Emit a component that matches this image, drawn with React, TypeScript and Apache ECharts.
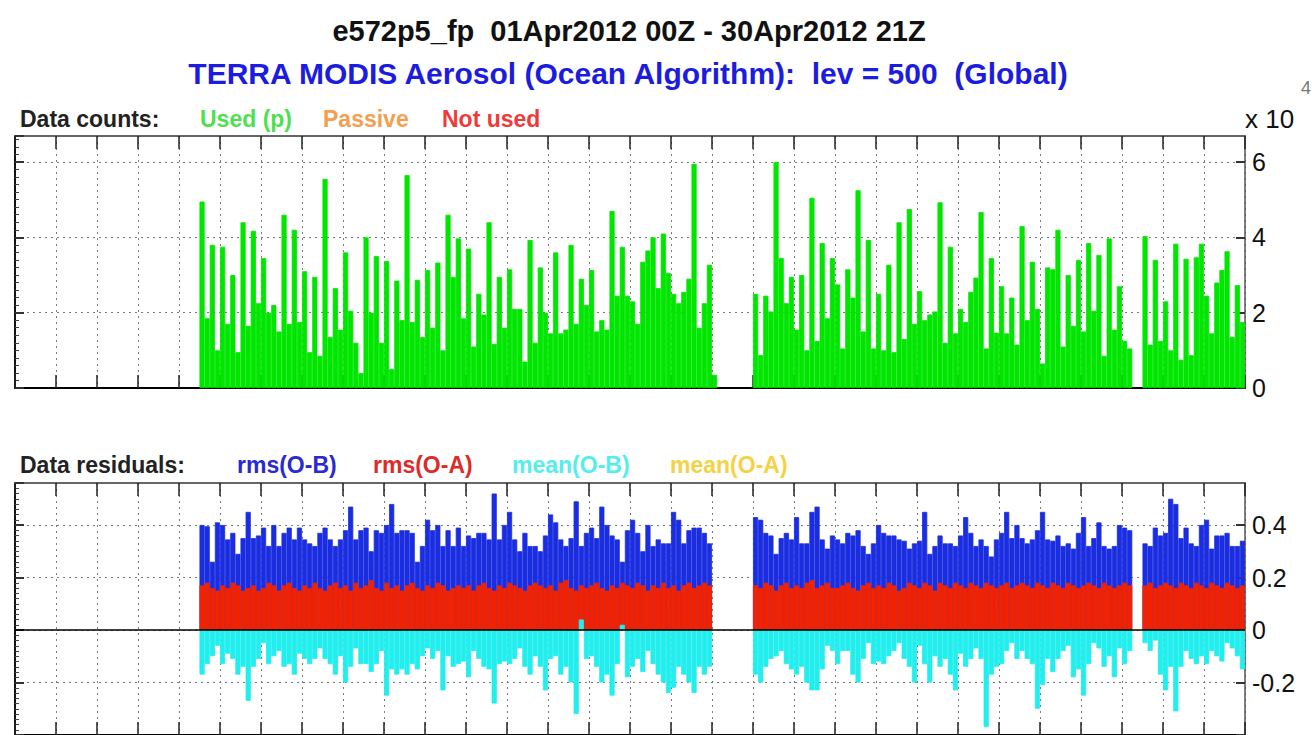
import React, { useEffect, useRef } from "react";
import * as echarts from "echarts";

// ---------- categories (3-hourly synoptic slots, 01Apr2012 00Z .. 30Apr2012 21Z) ----------
const DAY_LABELS = Array.from({ length: 30 }, (_, i) => String(i + 1).padStart(2, "0") + "Apr2012");
const HOURS = ["00Z", "03Z", "06Z", "09Z", "12Z", "15Z", "18Z", "21Z"];
const categories = DAY_LABELS.flatMap((d) => HOURS.map((h) => `${d} ${h}`));

// first slot index of each run of data
const COUNT_SEG_START = [36, 144, 220];
const RESID_SEG_START = [36, 144, 220];

// ---------- Data counts, Used (p), in units of 10^4 ----------
const usedSeg1 = [
  4.95, 1.85, 3.8, 1.0, 3.75, 1.7, 3.0, 0.95, 4.4, 1.65, 4.17, 2.25, 3.45, 2.0, 2.2, 1.5,
  4.6, 1.7, 4.2, 1.75, 3.1, 0.95, 2.95, 0.85, 5.55, 1.35, 2.65, 1.55, 3.6, 2.05, 1.2, 0.4,
  4.0, 2.0, 3.5, 1.2, 3.37, 0.5, 2.85, 1.8, 5.65, 1.75, 2.87, 1.35, 3.13, 1.6, 3.33, 1.0,
  4.6, 2.95, 3.97, 1.85, 3.7, 1.1, 2.5, 1.95, 4.4, 1.17, 2.95, 1.6, 3.15, 2.1, 2.1, 0.7,
  3.93, 1.2, 3.2, 2.0, 1.45, 3.6, 1.45, 1.55, 3.8, 1.7, 2.9, 2.2, 3.13, 1.5, 1.8, 1.55,
  4.7, 2.45, 3.75, 2.45, 2.3, 1.7, 3.35, 3.65, 4.0, 2.65, 4.1, 3.05, 2.5, 2.25, 2.55, 2.9,
  5.95, 1.6, 2.25, 3.27, 0.35,
];
const usedSeg2 = [
  2.5, 0.87, 2.45, 2.03, 6.0, 3.45, 2.25, 2.95, 1.55, 3.0, 1.0, 5.05, 1.25, 3.85, 1.85, 3.45,
  2.75, 1.05, 3.15, 2.4, 5.25, 1.5, 3.93, 1.05, 2.5, 1.0, 3.27, 0.95, 4.4, 1.3, 4.75, 1.7,
  2.57, 1.8, 1.95, 2.03, 4.93, 1.2, 3.75, 1.45, 2.1, 1.75, 2.55, 2.93, 4.67, 1.05, 3.45, 1.47,
  2.7, 1.45, 2.4, 1.15, 4.3, 1.8, 3.35, 2.1, 0.65, 3.2, 3.15, 4.2, 1.1, 3.0, 1.65, 3.4,
  1.5, 3.85, 2.05, 3.53, 0.85, 3.97, 1.55, 2.7, 1.25, 1.05,
];
const usedSeg3 = [
  4.03, 1.15, 3.4, 1.25, 2.3, 1.0, 3.83, 0.75, 3.43, 0.87, 3.47, 3.83, 2.45, 1.45, 2.8, 3.13,
  3.63, 1.35, 2.73, 1.75,
];

// ---------- Data residuals ----------
const rmsOBSeg1 = [
  0.4, 0.395, 0.26, 0.41, 0.4, 0.345, 0.37, 0.29, 0.35, 0.45, 0.35, 0.36, 0.39, 0.32, 0.4, 0.32,
  0.37, 0.39, 0.345, 0.39, 0.345, 0.33, 0.32, 0.37, 0.39, 0.345, 0.32, 0.345, 0.38, 0.47, 0.345, 0.38,
  0.39, 0.3, 0.38, 0.37, 0.4, 0.48, 0.37, 0.38, 0.38, 0.37, 0.26, 0.32, 0.42, 0.38, 0.4, 0.32,
  0.38, 0.32, 0.39, 0.32, 0.36, 0.35, 0.37, 0.37, 0.345, 0.52, 0.345, 0.4, 0.45, 0.345, 0.3, 0.37,
  0.32, 0.32, 0.3, 0.36, 0.44, 0.41, 0.345, 0.32, 0.35, 0.49, 0.32, 0.37, 0.39, 0.35, 0.47, 0.4,
  0.36, 0.345, 0.26, 0.38, 0.42, 0.37, 0.3, 0.4, 0.32, 0.345, 0.33, 0.33, 0.45, 0.42, 0.33, 0.38,
  0.39, 0.39, 0.37, 0.33,
];
const rmsOBSeg2 = [
  0.43, 0.42, 0.37, 0.36, 0.29, 0.35, 0.37, 0.345, 0.43, 0.33, 0.33, 0.45, 0.47, 0.345, 0.31, 0.36,
  0.345, 0.33, 0.37, 0.36, 0.38, 0.32, 0.29, 0.33, 0.4, 0.37, 0.36, 0.36, 0.345, 0.34, 0.31, 0.33,
  0.34, 0.45, 0.29, 0.32, 0.36, 0.33, 0.33, 0.32, 0.36, 0.43, 0.37, 0.32, 0.345, 0.32, 0.28, 0.345,
  0.37, 0.45, 0.35, 0.4, 0.35, 0.33, 0.345, 0.38, 0.45, 0.345, 0.34, 0.36, 0.32, 0.33, 0.31, 0.37,
  0.43, 0.32, 0.35, 0.41, 0.32, 0.31, 0.32, 0.4, 0.39, 0.38,
];
const rmsOBSeg3 = [
  0.33, 0.32, 0.39, 0.36, 0.37, 0.5, 0.48, 0.35, 0.39, 0.33, 0.32, 0.4, 0.42, 0.31, 0.36, 0.36,
  0.37, 0.32, 0.32, 0.34,
];

const rmsOASeg1 = [
  0.17, 0.18, 0.16, 0.15,
  0.17, 0.16, 0.18, 0.17, 0.15, 0.16, 0.17, 0.15,
  0.16, 0.18, 0.17, 0.15, 0.17, 0.18, 0.16, 0.15,
  0.17, 0.16, 0.18, 0.16, 0.15, 0.17, 0.18, 0.16,
  0.17, 0.15, 0.18, 0.16, 0.17, 0.19, 0.16, 0.15,
  0.18, 0.16, 0.17, 0.15, 0.17, 0.18, 0.16, 0.15,
  0.17, 0.16, 0.18, 0.17, 0.15, 0.16, 0.17, 0.16,
  0.17, 0.15, 0.17, 0.18, 0.16, 0.15, 0.17, 0.16,
  0.18, 0.17, 0.16, 0.15, 0.17, 0.18, 0.17, 0.16,
  0.17, 0.15, 0.18, 0.19, 0.16, 0.15, 0.17, 0.16,
  0.17, 0.18, 0.16, 0.15, 0.17, 0.16, 0.18, 0.17,
  0.16, 0.18, 0.17, 0.15, 0.17, 0.16, 0.18, 0.16,
  0.17, 0.15, 0.17, 0.18, 0.16, 0.17, 0.18, 0.17,
];
const rmsOASeg2 = [
  0.17, 0.16, 0.18, 0.17, 0.15, 0.17, 0.18, 0.16,
  0.17, 0.16, 0.18, 0.19, 0.16, 0.17, 0.18, 0.16,
  0.16, 0.17, 0.18, 0.16, 0.15, 0.17, 0.18, 0.16,
  0.17, 0.16, 0.18, 0.17, 0.15, 0.16, 0.18, 0.17,
  0.16, 0.18, 0.17, 0.15, 0.18, 0.17, 0.16, 0.18,
  0.17, 0.16, 0.18, 0.17, 0.16, 0.18, 0.17, 0.16,
  0.17, 0.18, 0.16, 0.17, 0.18, 0.17, 0.16, 0.18,
  0.17, 0.16, 0.18, 0.17, 0.16, 0.18, 0.17, 0.16,
  0.17, 0.18, 0.17, 0.16, 0.18, 0.17, 0.16, 0.17,
  0.18, 0.17,
];
const rmsOASeg3 = [
  0.17, 0.18, 0.16, 0.17, 0.18, 0.17, 0.16, 0.18, 0.17, 0.16, 0.18, 0.17,
  0.16, 0.18, 0.17, 0.16, 0.18, 0.17, 0.16, 0.17,
];

const meanOBSeg1 = [
  -0.17, -0.13, -0.1, -0.06, -0.13, -0.09, -0.11, -0.17, -0.14, -0.27, -0.14, -0.11, -0.05, -0.13, -0.1, -0.08,
  -0.14, -0.13, -0.17, -0.09, -0.11, -0.13, -0.11, -0.07, -0.11, -0.13, -0.17, -0.1, -0.2, -0.14, -0.07, -0.13,
  -0.13, -0.16, -0.13, -0.08, -0.25, -0.15, -0.17, -0.15, -0.17, -0.13, -0.15, -0.1, -0.07, -0.11, -0.08, -0.23,
  -0.1, -0.14, -0.13, -0.12, -0.18, -0.08, -0.11, -0.14, -0.15, -0.28, -0.13, -0.12, -0.13, -0.11, -0.07, -0.14,
  -0.17, -0.1, -0.14, -0.23, -0.11, -0.1, -0.17, -0.14, -0.2, -0.32, 0.04, -0.11, -0.1, -0.14, -0.2, -0.17,
  -0.25, -0.13, 0.02, -0.18, -0.14, -0.11, -0.16, -0.08, -0.13, -0.17, -0.2, -0.24, -0.22, -0.14, -0.17, -0.2,
  -0.24, -0.14, -0.17, -0.14,
];
const meanOBSeg2 = [
  -0.17, -0.2, -0.14, -0.11, -0.1, -0.08, -0.13, -0.15, -0.17, -0.14, -0.2, -0.23, -0.23, -0.15, -0.06, -0.08,
  -0.13, -0.08, -0.08, -0.17, -0.2, -0.11, -0.05, -0.13, -0.12, -0.13, -0.1, -0.08, -0.05, -0.11, -0.14, -0.2,
  -0.06, -0.13, -0.2, -0.1, -0.14, -0.11, -0.17, -0.23, -0.09, -0.14, -0.11, -0.07, -0.11, -0.37, -0.17, -0.14,
  -0.13, -0.08, -0.05, -0.11, -0.08, -0.11, -0.13, -0.3, -0.21, -0.11, -0.16, -0.11, -0.08, -0.06, -0.18, -0.15,
  -0.25, -0.13, -0.05, -0.07, -0.14, -0.1, -0.18, -0.07, -0.13, -0.08,
];
const meanOBSeg3 = [
  -0.05, -0.08, -0.04, -0.17, -0.23, -0.14, -0.31, -0.14, -0.08, -0.11, -0.13, -0.1, -0.13, -0.08, -0.1, -0.12,
  -0.05, -0.07, -0.1, -0.15,
];

// ---------- tick labels ----------
const COUNT_TICKS = [0, 2, 4, 6];
const RESID_TICKS = [-0.2, 0, 0.2, 0.4];

// ---------- helpers ----------
function place(segs: number[][], starts: number[]): (number | null)[] {
  const out: (number | null)[] = new Array(categories.length).fill(null);
  segs.forEach((seg, i) => seg.forEach((v, j) => { out[starts[i] + j] = v; }));
  return out;
}

const usedCounts = place([usedSeg1, usedSeg2, usedSeg3], COUNT_SEG_START);
const rmsOB = place([rmsOBSeg1, rmsOBSeg2, rmsOBSeg3], RESID_SEG_START);
const rmsOA = place([rmsOASeg1, rmsOASeg2, rmsOASeg3], RESID_SEG_START);
const meanOB = place([meanOBSeg1, meanOBSeg2, meanOBSeg3], RESID_SEG_START);

const FONT = "'Liberation Sans', Arial, Helvetica, sans-serif";
const GRID_COLOR = "#7a7a7a";

function txt(text: string, x: number, y: number, size: number, color: string, weight = "bold", align = "left") {
  return {
    type: "text",
    x,
    y,
    silent: true,
    style: {
      text,
      fill: color,
      fontSize: size,
      fontWeight: weight,
      fontFamily: FONT,
      align,
      textAlign: align,
      verticalAlign: "middle",
      textVerticalAlign: "middle",
    },
  };
}

function dayAxes(gridIndex: number, bottomColor: string) {
  return [
    {
      type: "category",
      gridIndex,
      data: categories,
      show: false,
    },
    {
      type: "value",
      gridIndex,
      min: 0,
      max: 30,
      interval: 1,
      position: "bottom",
      axisLine: { show: true, onZero: false, lineStyle: { color: bottomColor, width: 2 } },
      axisTick: { show: true, inside: true, length: 13, lineStyle: { color: "#222", width: 1.5 } },
      axisLabel: { show: false },
      splitLine: { show: true, lineStyle: { color: GRID_COLOR, width: 1, type: [2, 4] } },
    },
    {
      type: "value",
      gridIndex,
      min: 0,
      max: 30,
      interval: 1,
      position: "top",
      axisLine: { show: true, onZero: false, lineStyle: { color: "#666", width: 2 } },
      axisTick: { show: true, inside: true, length: 13, lineStyle: { color: "#222", width: 1.5 } },
      axisLabel: { show: false },
      splitLine: { show: false },
    },
  ];
}

function valueAxes(gridIndex: number, min: number, max: number, interval: number, ticks: number[]) {
  return [
    {
      type: "value",
      gridIndex,
      position: "right",
      min,
      max,
      interval,
      axisLine: { show: true, onZero: false, lineStyle: { color: "#555", width: 1.5 } },
      axisTick: { show: true, inside: true, length: 9, lineStyle: { color: "#333", width: 2 } },
      axisLabel: {
        show: true,
        showMaxLabel: false,
        showMinLabel: true,
        margin: 7,
        color: "#111",
        fontSize: 25,
        fontFamily: FONT,
        formatter: (v: number) => {
          const hit = ticks.find((t) => Math.abs(t - v) < 1e-6);
          return hit === undefined ? "" : String(hit);
        },
      },
      splitLine: { show: true, lineStyle: { color: GRID_COLOR, width: 1, type: [2, 4] } },
    },
    {
      type: "value",
      gridIndex,
      position: "left",
      min,
      max,
      interval,
      axisLine: { show: true, onZero: false, lineStyle: { color: "#111", width: 2 } },
      axisTick: { show: true, inside: true, length: 9, lineStyle: { color: "#333", width: 2 } },
      minorTick: { show: true, splitNumber: 10, length: 4, lineStyle: { color: "#444", width: 1 } },
      axisLabel: { show: false },
      splitLine: { show: false },
    },
  ];
}

function barStyle(color: string) {
  // a hairline border of the same colour closes the anti-aliasing seams between adjacent bars
  return { color, borderColor: color, borderWidth: 0.8 };
}

export default function App() {
  const ref = useRef<HTMLDivElement>(null);

  useEffect(() => {
    if (!ref.current) return;
    const chart = echarts.init(ref.current, undefined, { renderer: "svg" });

    const option: any = {
      animation: false,
      backgroundColor: "#ffffff",
      textStyle: { fontFamily: FONT },
      grid: [
        { left: 15, top: 136, width: 1230, height: 252 },
        { left: 15, top: 483, width: 1230, height: 257 },
      ],
      xAxis: [...dayAxes(0, "#000"), ...dayAxes(1, "#000")],
      yAxis: [
        ...valueAxes(0, 0, 6.69, 2, COUNT_TICKS),
        ...valueAxes(1, -0.4, 0.56, 0.2, RESID_TICKS),
      ],
      series: [
        {
          name: "Used (p)",
          type: "bar",
          xAxisIndex: 0,
          yAxisIndex: 0,
          data: usedCounts,
          barCategoryGap: "0%",
          barGap: "0%",
          itemStyle: barStyle("#00e600"),
          z: 2,
        },
        {
          name: "rms(O-B)",
          type: "bar",
          xAxisIndex: 3,
          yAxisIndex: 2,
          data: rmsOB,
          barCategoryGap: "0%",
          barGap: "-100%",
          itemStyle: barStyle("#1b2de0"),
          z: 2,
        },
        {
          name: "rms(O-A)",
          type: "bar",
          xAxisIndex: 3,
          yAxisIndex: 2,
          data: rmsOA,
          barCategoryGap: "0%",
          barGap: "-100%",
          itemStyle: barStyle("#f22200"),
          z: 3,
        },
        {
          name: "mean(O-B)",
          type: "bar",
          xAxisIndex: 3,
          yAxisIndex: 2,
          data: meanOB,
          barCategoryGap: "0%",
          barGap: "-100%",
          itemStyle: barStyle("#22eeee"),
          z: 4,
          markLine: {
            silent: true,
            symbol: "none",
            label: { show: false },
            lineStyle: { color: "#000", width: 1.5, type: "solid" },
            data: [{ yAxis: 0 }],
            z: 10,
          },
        },
      ],
      graphic: [
        txt("e572p5_fp  01Apr2012 00Z - 30Apr2012 21Z", 629, 31, 29, "#111", "bold", "center"),
        txt("TERRA MODIS Aerosol (Ocean Algorithm):  lev = 500  (Global)", 628, 73, 30, "#1c1ce0", "bold", "center"),
        txt("Data counts:", 20, 119, 23, "#222"),
        txt("Used (p)", 200, 119, 23, "#4ee04e"),
        txt("Passive", 323, 119, 23, "#f2a050"),
        txt("Not used", 442, 119, 23, "#ee3a3a"),
        txt("x 10", 1245, 119, 26, "#111", "normal"),
        txt("4", 1301, 88, 18, "#777", "normal"),
        txt("Data residuals:", 20, 465, 23, "#222"),
        txt("rms(O-B)", 237, 465, 23, "#2a2ad0"),
        txt("rms(O-A)", 373, 465, 23, "#e02a2a"),
        txt("mean(O-B)", 512, 465, 23, "#55eeee"),
        txt("mean(O-A)", 670, 465, 23, "#f4d246"),
      ],
    };

    chart.setOption(option);
    return () => chart.dispose();
  }, []);

  return (
    <div
      ref={ref}
      style={{ position: "fixed", left: 0, top: 0, width: 1312, height: 735, background: "#fff" }}
    />
  );
}
